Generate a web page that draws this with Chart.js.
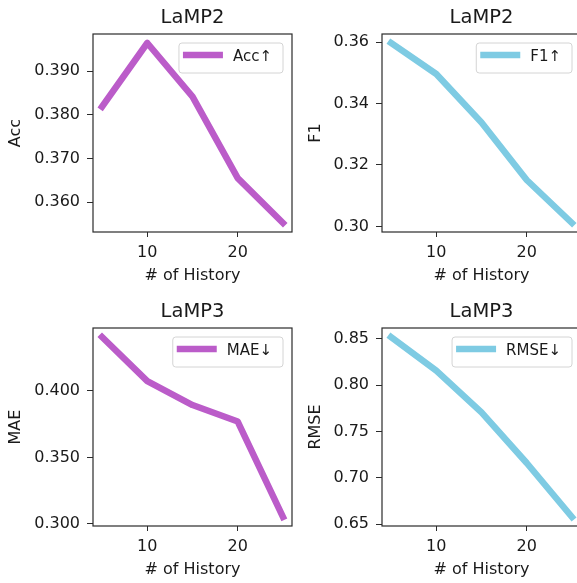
<!DOCTYPE html>
<html>
<head>
<meta charset="utf-8">
<script src="https://cdn.jsdelivr.net/npm/chart.js@4.4.0/dist/chart.umd.min.js"></script>
<style>
  html, body { margin: 0; padding: 0; background: #fff; overflow: hidden; width: 577px; height: 583px; }
  canvas { position: absolute; }
</style>
</head>
<body>
<canvas id="accChart" width="300" height="290" style="left:0;top:0"></canvas>
<canvas id="f1Chart" width="290" height="290" style="left:300px;top:0"></canvas>
<canvas id="maeChart" width="300" height="290" style="left:0;top:294px"></canvas>
<canvas id="rmseChart" width="290" height="290" style="left:300px;top:294px"></canvas>
<script>
// data
const history = [5, 10, 15, 20, 25];
const acc = [0.3819, 0.3965, 0.3842, 0.3655, 0.3552];
const f1 = [0.3597, 0.3496, 0.3338, 0.3151, 0.3011];
const mae = [0.4406, 0.4074, 0.3894, 0.3770, 0.3052];
const rmse = [0.8517, 0.8154, 0.7705, 0.7160, 0.6579];

const xTicks = [10, 20];
const accTicks = [0.360, 0.370, 0.380, 0.390];
const f1Ticks = [0.30, 0.32, 0.34, 0.36];
const maeTicks = [0.300, 0.350, 0.400];
const rmseTicks = [0.65, 0.70, 0.75, 0.80, 0.85];

const FONT = '"DejaVu Sans", sans-serif';
const TEXT = '#1a1a1a';
const PURPLE = '#bb5cc9';
const BLUE = '#7ecbe3';

Chart.defaults.font.family = FONT;
Chart.defaults.color = TEXT;

// matplotlib-style 5% margin around the data
function limits(vals) {
  const lo = Math.min(...vals), hi = Math.max(...vals);
  const m = (hi - lo) * 0.05;
  return [lo - m, hi + m];
}

const framePlugin = {
  id: 'frame',
  afterDatasetsDraw(chart) {
    const { ctx, chartArea: a } = chart;
    ctx.save();
    ctx.strokeStyle = '#2b2b2b';
    ctx.lineWidth = 1.2;
    ctx.strokeRect(a.left, a.top, a.right - a.left, a.bottom - a.top);
    ctx.restore();
  },
  afterDraw(chart) {
    const { ctx, chartArea: a } = chart;
    const ds = chart.data.datasets[0];
    ctx.save();
    ctx.font = '15px ' + FONT;
    const tw = ctx.measureText(ds.label).width;
    const w = 4 + 40 + 10 + tw + 11;
    const h = 30;
    const x = a.right - 9 - w;
    const y = a.top + 9;
    ctx.beginPath();
    ctx.roundRect(x, y, w, h, 3);
    ctx.fillStyle = 'rgba(255,255,255,0.85)';
    ctx.fill();
    ctx.strokeStyle = '#d4d4d4';
    ctx.lineWidth = 1;
    ctx.stroke();
    ctx.beginPath();
    ctx.moveTo(x + 4, y + h / 2 - 3);
    ctx.lineTo(x + 44, y + h / 2 - 3);
    ctx.strokeStyle = ds.borderColor;
    ctx.lineWidth = 6.5;
    ctx.stroke();
    ctx.fillStyle = TEXT;
    ctx.textBaseline = 'middle';
    ctx.fillText(ds.label, x + 54, y + h / 2 - 1);
    ctx.restore();
  }
};

function makePanel(id, title, label, yLabel, values, ticks, decimals, color, yWidth, padRight) {
  const [yMin, yMax] = limits(values);
  new Chart(document.getElementById(id), {
    type: 'line',
    data: {
      datasets: [{
        label: label,
        data: history.map((h, i) => ({ x: h, y: values[i] })),
        borderColor: color,
        borderWidth: 6.5,
        borderCapStyle: 'square',
        borderJoinStyle: 'round',
        pointRadius: 0,
        tension: 0,
        fill: false
      }]
    },
    options: {
      responsive: false,
      animation: false,
      layout: { padding: { left: 0, right: padRight, top: 0, bottom: 0 } },
      plugins: {
        legend: { display: false },
        tooltip: { enabled: false },
        title: {
          display: true,
          text: title,
          color: TEXT,
          fullSize: false,
          font: { size: 19.5, weight: 'normal' },
          padding: { top: 6.5, bottom: 4.1 }
        }
      },
      scales: {
        x: {
          type: 'linear',
          min: 4,
          max: 26,
          afterBuildTicks: s => { s.ticks = xTicks.map(v => ({ value: v })); },
          afterFit: s => { s.height = 58; },
          ticks: { color: TEXT, font: { size: 16 }, padding: 6, maxRotation: 0, autoSkip: false, callback: v => String(v) },
          grid: { display: true, drawOnChartArea: false, drawTicks: true, tickLength: 5, color: '#2b2b2b' },
          border: { display: false },
          title: { display: true, text: '# of History', color: TEXT, font: { size: 16 }, padding: { top: 0, bottom: 4.5 } }
        },
        y: {
          type: 'linear',
          min: yMin,
          max: yMax,
          afterBuildTicks: s => { s.ticks = ticks.map(v => ({ value: v })); },
          afterFit: s => { s.width = yWidth; },
          ticks: { color: TEXT, font: { size: 16 }, padding: 7, autoSkip: false, callback: v => v.toFixed(decimals) },
          grid: { display: true, drawOnChartArea: false, drawTicks: true, tickLength: 6, color: '#2b2b2b' },
          border: { display: false },
          title: { display: true, text: yLabel, color: TEXT, font: { size: 16 }, padding: { top: 6.5, bottom: 0 } }
        }
      }
    },
    plugins: [framePlugin]
  });
}

makePanel('accChart', 'LaMP2', 'Acc\u2191', 'Acc', acc, accTicks, 3, PURPLE, 93, 8);
makePanel('f1Chart', 'LaMP2', 'F1\u2191', 'F1', f1, f1Ticks, 2, BLUE, 82, 9);
makePanel('maeChart', 'LaMP3', 'MAE\u2193', 'MAE', mae, maeTicks, 3, PURPLE, 93, 8);
makePanel('rmseChart', 'LaMP3', 'RMSE\u2193', 'RMSE', rmse, rmseTicks, 2, BLUE, 82, 9);
</script>
</body>
</html>
